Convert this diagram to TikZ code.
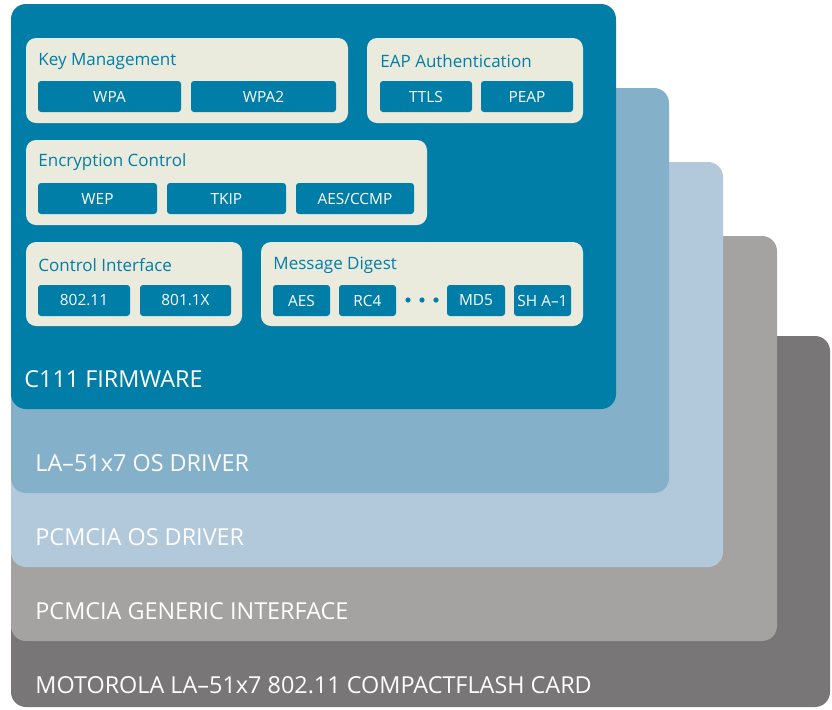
\documentclass[tikz,border=0pt]{standalone}
\usepackage{fontspec}
\setmainfont{Open Sans}
\usepackage{xcolor}
\usetikzlibrary{positioning}

\definecolor{fwteal}{HTML}{007EA7}
\definecolor{drvblue}{HTML}{84B0CA}
\definecolor{pcblue}{HTML}{B2C9DC}
\definecolor{ifgray}{HTML}{A4A3A1}
\definecolor{cardgray}{HTML}{787677}
\definecolor{panelcream}{HTML}{EBEBDD}

\tikzset{
  layer/.style={rounded corners=7.5pt},
  layertext/.style={anchor=west, text=white, inner sep=0pt, font=\fontsize{11.7}{13}\selectfont},
  panel/.style={fill=panelcream, rounded corners=5pt},
  paneltitle/.style={anchor=west, text=fwteal, inner sep=0pt, font=\fontsize{8.5}{10}\selectfont},
  subbox/.style={fill=fwteal, rounded corners=1.5pt},
  subtext/.style={text=white, inner sep=0pt, font=\fontsize{7.7}{9}\selectfont}
}

\begin{document}
\begin{tikzpicture}[x=0.5pt, y=-0.5pt]
  \useasboundingbox (0,0) rectangle (832,709);

  % stacked layers, bottom first
  \fill[layer, cardgray] (11,336) rectangle (830,707);
  \fill[layer, ifgray] (11,236) rectangle (777,641);
  \fill[layer, pcblue] (11,162) rectangle (723,567);
  \fill[layer, drvblue] (11,88) rectangle (669,493);
  \fill[layer, fwteal] (11,4) rectangle (616,409);

  \node[layertext] (card) at (35,685) {MOTOROLA LA–51x7 802.11 COMPACTFLASH CARD};
  \node[layertext] (generic) at (35,611) {PCMCIA GENERIC INTERFACE};
  \node[layertext] (pcdrv) at (35,537) {PCMCIA OS DRIVER};
  \node[layertext] (ladrv) at (35,463) {LA–51x7 OS DRIVER};
  \node[layertext] (firmware) at (24,379) {C111 FIRMWARE};

  % firmware panels
  \fill[panel] (26,38) rectangle (348,123);
  \fill[panel] (367,38) rectangle (583,123);
  \fill[panel] (26,140) rectangle (427,225);
  \fill[panel] (26,242) rectangle (242,326);
  \fill[panel] (261,242) rectangle (583,326);

  \node[paneltitle] (keymgmt) at (38,61) {Key Management};
  \node[paneltitle] (eapauth) at (380,61) {EAP Authentication};
  \node[paneltitle] (encctrl) at (38,162) {Encryption Control};
  \node[paneltitle] (ctrlif) at (38,265) {Control Interface};
  \node[paneltitle] (msgdig) at (273,265) {Message Digest};

  \foreach \nm/\xa/\xb/\ya/\txt in {
      wpa/38/181/81/WPA, wpatwo/191/336/81/WPA2,
      ttls/380/472/81/TTLS, peap/481/573/81/PEAP,
      wep/38/157/183/WEP, tkip/167/286/183/TKIP, ccmp/296/414/183/{AES/CCMP},
      ieee/38/130/285/802.11, dotx/140/231/285/801.1X,
      aes/273/330/285/AES, rcfour/339/396/285/RC4,
      mdfive/447/505/285/MD5, sha/514/571/285/{SH A–1}} {
    \fill[subbox] (\xa,\ya) rectangle (\xb,\ya+31);
    \node[subtext] (\nm) at ({(\xa+\xb)/2},\ya+15.5) {\txt};
  }

  % dots between RC4 and MD5
  \foreach \dx in {408,422,436}
    \fill[fwteal] (\dx,300) circle (1.3pt);
\end{tikzpicture}
\end{document}
